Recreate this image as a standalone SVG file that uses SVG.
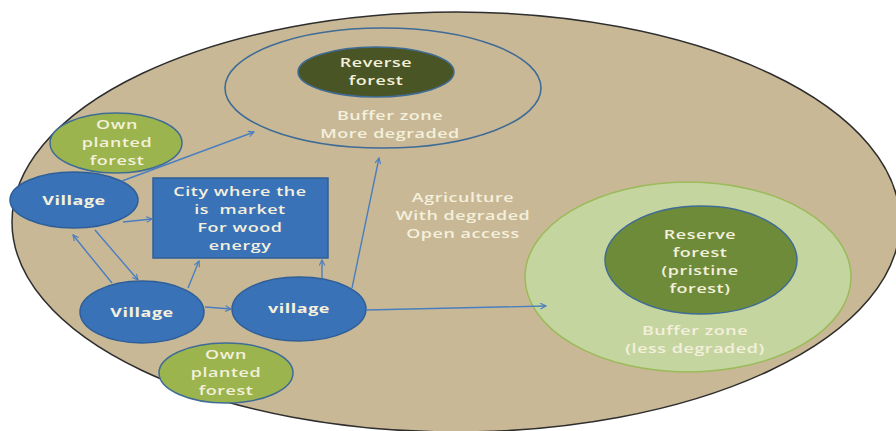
<svg xmlns="http://www.w3.org/2000/svg" width="896" height="431" viewBox="0 0 896 431">
<defs>
<marker id="ah" viewBox="0 0 10 10" refX="9" refY="5" markerWidth="7" markerHeight="7" orient="auto-start-reverse" markerUnits="userSpaceOnUse">
<path d="M1,1 L9,5 L1,9" fill="none" stroke="#4A7EC0" stroke-width="1.6"/>
</marker>
<style>
text{font-family:"Open Sans","Noto Sans","Liberation Sans",sans-serif;font-size:13.2px;font-weight:600;letter-spacing:0.4px;fill:#F4F0DC;text-anchor:middle;white-space:pre}
.b{font-weight:bold}
.vill{fill:#3A72B8;stroke:#2F5F98;stroke-width:1.5}
.own{fill:#9BB44E;stroke:#3F6C96;stroke-width:1.5}
.con{fill:none;stroke:#4A7EC0;stroke-width:1.4;marker-end:url(#ah)}
</style>
</defs>
<rect width="896" height="431" fill="#fff"/>
<g id="land">
<ellipse cx="456" cy="222" rx="444" ry="210" fill="#C8B896" stroke="#2E2E2E" stroke-width="1.5"/>
</g>
<g id="buffer-upper">
<ellipse cx="383" cy="88" rx="158" ry="60" fill="none" stroke="#3F6C96" stroke-width="1.6"/>
<g transform="translate(390 0) scale(1.36 1)">
<text x="0" y="120">Buffer zone</text>
<text x="0" y="138">More degraded</text>
</g>
</g>
<g id="reverse-forest">
<ellipse cx="376" cy="72" rx="78" ry="25" fill="#4A5525" stroke="#3F6C96" stroke-width="1.5"/>
<g transform="translate(376 0) scale(1.36 1)">
<text x="0" y="67">Reverse</text>
<text x="0" y="85">forest</text>
</g>
</g>
<g id="buffer-lower">
<ellipse cx="688" cy="277" rx="163" ry="95" fill="#C5D5A0" stroke="#9BBB5A" stroke-width="1.5"/>
<g transform="translate(695 0) scale(1.36 1)">
<text x="0" y="335">Buffer zone</text>
<text x="0" y="353">(less degraded)</text>
</g>
</g>
<g id="reserve-forest">
<ellipse cx="701" cy="260" rx="96" ry="54" fill="#6E8B3A" stroke="#3F6C96" stroke-width="1.5"/>
<g transform="translate(700 0) scale(1.36 1)">
<text x="0" y="239">Reserve</text>
<text x="0" y="257">forest</text>
<text x="0" y="275">(pristine</text>
<text x="0" y="293">forest)</text>
</g>
</g>
<g id="agriculture">
<g transform="translate(463 0) scale(1.36 1)">
<text x="0" y="202">Agriculture</text>
<text x="0" y="220">With degraded</text>
<text x="0" y="238">Open access</text>
</g>
</g>
<g id="own-forest-top">
<ellipse class="own" cx="116" cy="143" rx="66" ry="30"/>
<g transform="translate(117 0) scale(1.36 1)">
<text x="0" y="129">Own</text>
<text x="0" y="147">planted</text>
<text x="0" y="165">forest</text>
</g>
</g>
<g id="village-top">
<ellipse class="vill" cx="74" cy="200" rx="64" ry="28"/>
<g transform="translate(74 0) scale(1.36 1)">
<text class="b" x="0" y="205">Village</text>
</g>
</g>
<g id="city">
<rect x="153" y="178" width="175" height="80" fill="#3A72B8" stroke="#2F5F98" stroke-width="1.5"/>
<g transform="translate(240 0) scale(1.36 1)">
<text x="0" y="196">City where the</text>
<text x="0" y="214">is  market</text>
<text x="0" y="232">For wood</text>
<text x="0" y="250">energy</text>
</g>
</g>
<g id="village-mid">
<ellipse class="vill" cx="142" cy="312" rx="62" ry="31"/>
<g transform="translate(142 0) scale(1.36 1)">
<text class="b" x="0" y="317">Village</text>
</g>
</g>
<g id="village-right">
<ellipse class="vill" cx="299" cy="309" rx="67" ry="32"/>
<g transform="translate(299 0) scale(1.36 1)">
<text class="b" x="0" y="313">village</text>
</g>
</g>
<g id="own-forest-bottom">
<ellipse class="own" cx="226" cy="373" rx="67" ry="30"/>
<g transform="translate(226 0) scale(1.36 1)">
<text x="0" y="359">Own</text>
<text x="0" y="377">planted</text>
<text x="0" y="395">forest</text>
</g>
</g>
<g id="connectors">
<path class="con" d="M122,181 L254,132"/>
<path class="con" d="M123,222 L152,219"/>
<path class="con" d="M112,283 L73,235"/>
<path class="con" d="M95,230 L138,280"/>
<path class="con" d="M188,288 L199,261"/>
<path class="con" d="M205,307 L231,309"/>
<path class="con" d="M322,278 L322,260"/>
<path class="con" d="M352,288 L379,158"/>
<path class="con" d="M366,310 L546,306"/>
</g>
</svg>
